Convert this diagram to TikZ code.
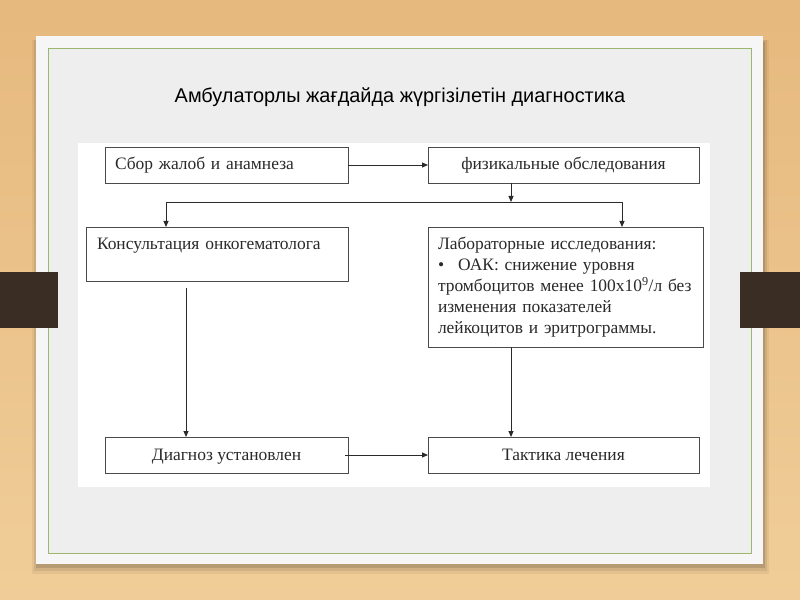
\documentclass[tikz,border=0pt]{standalone}
\usepackage{fontspec}
\setmainfont{Liberation Serif}
\newfontfamily\titlefont{Liberation Sans}
\usetikzlibrary{arrows.meta}
\definecolor{woodtop}{HTML}{E6B97E}
\definecolor{woodbot}{HTML}{F0CD98}
\definecolor{cardbg}{HTML}{F6F6F6}
\definecolor{innerbg}{HTML}{EEEEEE}
\definecolor{greenline}{HTML}{9DB86E}
\definecolor{tabcol}{HTML}{3A2D24}
\definecolor{inkcol}{HTML}{2A2A2A}
\tikzset{
  box/.style={draw=inkcol!85, line width=0.9bp, fill=white, text=inkcol, font=\fontsize{17.5}{21}\selectfont, inner sep=5bp, outer sep=0pt},
  onebox/.style={box, minimum height=36bp, text height=13bp, text depth=3bp},
  arr/.style={draw=inkcol, line width=0.9bp, -{Triangle[length=6bp,width=5bp]}},
  ln/.style={draw=inkcol, line width=0.9bp}
}
\begin{document}
\begin{tikzpicture}[x=1bp,y=-1bp]
\useasboundingbox (0,0) rectangle (800,600);
% background
\shade[top color=woodtop, bottom color=woodbot] (0,0) rectangle (800,600);
% card shadow
\fill[black, opacity=0.05] (32,40) rectangle (769,574);
\fill[black, opacity=0.08] (34,40) rectangle (767,571);
\fill[black, opacity=0.12] (36,42) rectangle (765,568);
% card
\fill[cardbg] (36,36) rectangle (763,564);
\fill[innerbg] (48,48) rectangle (751,553);
\draw[greenline, line width=0.8bp] (48,48) rectangle (751,553);
% tabs
\fill[tabcol] (0,272) rectangle (58,328);
\fill[tabcol] (740,272) rectangle (800,328);
% title
\node[font=\titlefont\fontsize{20}{24}\selectfont, text=black] (title) at (400,97) {Амбулаторлы жағдайда жүргізілетін диагностика};
% white panel
\fill[white] (78,143) rectangle (710,487);
% boxes
\node[onebox, minimum width=243bp, text width=233bp, align=left] (s) at (226.5,165) {\hspace*{5bp}Сбор жалоб и анамнеза};
\node[onebox, minimum width=271bp, align=center] (f) at (563.5,165) {физикальные обследования};
\node[box, minimum width=262bp, text width=252bp, align=left, text height=17bp, text depth=27bp] (k) at (217,254) {\hspace*{6bp}Консультация онкогематолога};
\node[box, minimum width=275bp, minimum height=120bp, text width=255bp, align=left] (l) at (565.5,287) {\hspace*{0pt}Лабораторные исследования:\\
\textbullet\hspace{0.8em}ОАК: снижение уровня\\
тромбоцитов менее 100x10\textsuperscript{9}/л без\\
изменения показателей\\
лейкоцитов и эритрограммы.};
\node[onebox, minimum width=243bp, align=center] (d) at (226.5,455) {Диагноз установлен};
\node[onebox, minimum width=271bp, align=center] (t) at (563.5,455) {Тактика лечения};
% junctions
\coordinate (j) at (511,202);
\coordinate (jl) at (166,202);
\coordinate (jr) at (622,202);
\coordinate (kd) at (186,288);
% connectors
\draw[arr] (s.east) -- (f.west);
\draw[arr] (f.south -| j) -- (j);
\draw[ln] (jl) -- (jr);
\draw[arr] (jl) -- (jl |- k.north);
\draw[arr] (jr) -- (jr |- l.north);
\draw[arr] (kd) -- (kd |- d.north);
\draw[arr] (l.south -| j) -- (j |- t.north);
\draw[arr] ([xshift=-3bp]d.east) -- (t.west);
\end{tikzpicture}
\end{document}
